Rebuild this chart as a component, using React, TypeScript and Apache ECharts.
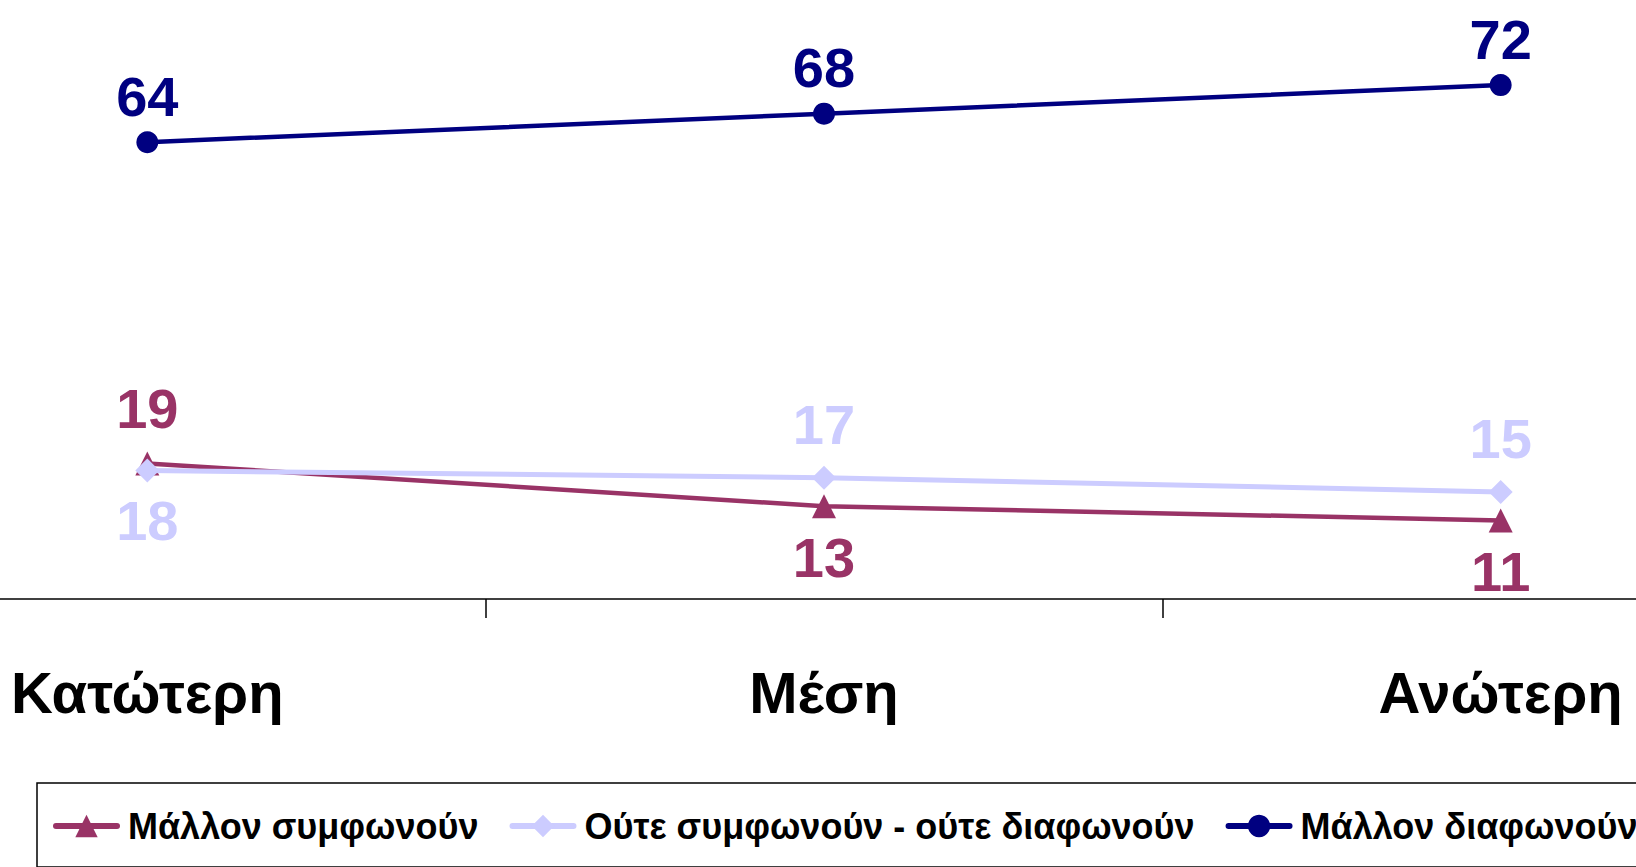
import React, { useEffect, useRef } from "react";
import * as echarts from "echarts";

const categories = ["Κατώτερη", "Μέση", "Ανώτερη"];
const seriesNames = [
  "Μάλλον συμφωνούν",
  "Ούτε συμφωνούν - ούτε διαφωνούν",
  "Μάλλον διαφωνούν",
];
const agree = [19, 13, 11];
const neutral = [18, 17, 15];
const disagree = [64, 68, 72];
const agreeLabelPos = ["top", "bottom", "bottom"];
const neutralLabelPos = ["bottom", "top", "top"];
const disagreeLabelPos = ["top", "top", "top"];

const FONT = '"Liberation Sans", Arial, sans-serif';

function buildData(values: number[], positions: string[], topDist: number, botDist: number) {
  return values.map((v, i) => ({
    value: v,
    label: {
      position: positions[i],
      distance: positions[i] === "top" ? topDist : botDist,
    },
  }));
}

export default function App() {
  const ref = useRef<HTMLDivElement>(null);
  useEffect(() => {
    document.body.style.margin = "0";
    document.body.style.overflow = "hidden";
    const chart = echarts.init(ref.current!, null, { renderer: "svg" });
    const labelBase = {
      show: true,
      fontFamily: FONT,
      fontSize: 56,
      fontWeight: "bold" as const,
    };
    chart.setOption({
      animation: false,
      backgroundColor: "#ffffff",
      grid: {
        left: -191,
        width: 2030,
        top: 28,
        height: 571,
        outerBoundsMode: "none",
        containLabel: false,
      },
      xAxis: {
        type: "category",
        data: categories,
        boundaryGap: true,
        axisLine: { show: true, lineStyle: { color: "#000", width: 1.5 } },
        axisTick: { show: true, length: 19, lineStyle: { color: "#000", width: 1.5 } },
        axisLabel: {
          margin: 64,
          fontFamily: FONT,
          fontSize: 58,
          fontWeight: "bold",
          color: "#000",
        },
      },
      yAxis: {
        type: "value",
        min: 0,
        max: 80,
        show: false,
        splitLine: { show: false },
      },
      legend: {
        left: 37,
        top: 783,
        width: 2200,
        orient: "horizontal",
        padding: [25, 16, 23, 16],
        borderColor: "#000",
        borderWidth: 1.5,
        itemGap: 31,
        itemWidth: 61,
        itemHeight: 28,
        lineStyle: { width: 6, cap: "round" },
        textStyle: {
          fontFamily: FONT,
          fontSize: 36,
          fontWeight: "bold",
          color: "#000",
          padding: [0, 0, 0, 6],
        },
        data: seriesNames,
      },
      series: [
        {
          name: seriesNames[0],
          type: "line",
          data: buildData(agree, agreeLabelPos, 15, 11),
          symbol: "triangle",
          symbolSize: 24,
          lineStyle: { color: "#993366", width: 4.5 },
          itemStyle: { color: "#993366" },
          label: { ...labelBase, color: "#993366" },
          z: 2,
        },
        {
          name: seriesNames[1],
          type: "line",
          data: buildData(neutral, neutralLabelPos, 13, 10),
          symbol: "diamond",
          symbolSize: 24,
          lineStyle: { color: "#CCCCFF", width: 5 },
          itemStyle: { color: "#CCCCFF" },
          label: { ...labelBase, color: "#CCCCFF" },
          z: 3,
        },
        {
          name: seriesNames[2],
          type: "line",
          data: buildData(disagree, disagreeLabelPos, 7, 7),
          symbol: "circle",
          symbolSize: 22,
          lineStyle: { color: "#000080", width: 4.5 },
          itemStyle: { color: "#000080" },
          label: { ...labelBase, color: "#000080" },
          z: 4,
        },
      ],
    });
    return () => chart.dispose();
  }, []);
  return <div ref={ref} style={{ width: 1636, height: 867 }} />;
}
